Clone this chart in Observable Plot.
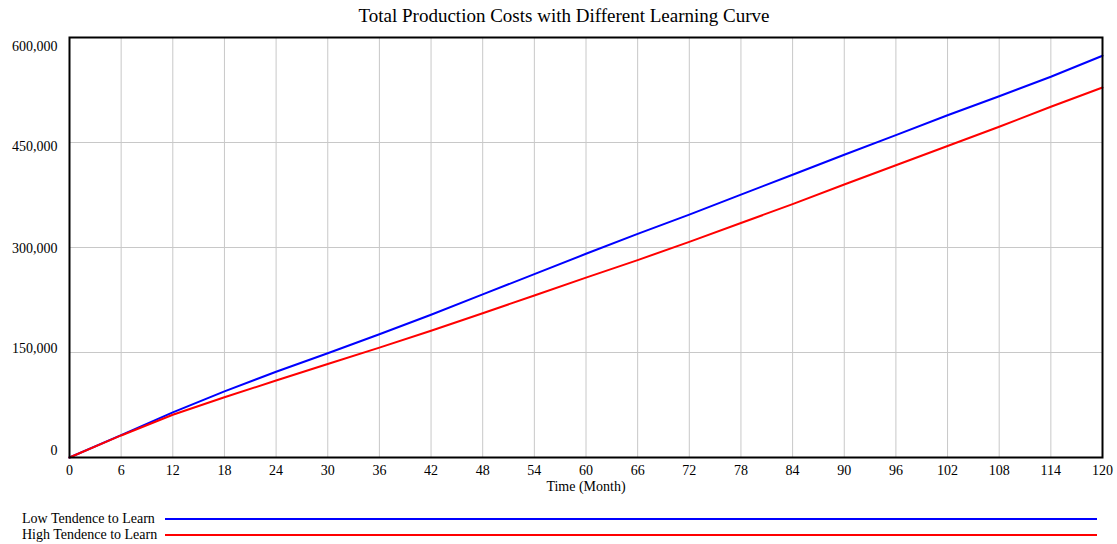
<!DOCTYPE html>
<html>
<head>
<meta charset="utf-8">
<script src="https://cdn.jsdelivr.net/npm/d3@7"></script>
<script src="https://cdn.jsdelivr.net/npm/@observablehq/plot@0.6"></script>
<style>
  html, body { margin: 0; padding: 0; background: #fff; }
  #wrap { position: relative; width: 1117px; height: 544px; font-family: "Liberation Serif", "Times New Roman", serif; color: #000; }
  #title { position: absolute; top: 5px; left: 11px; width: 1106px; text-align: center; font-size: 19px; line-height: 22px; }
  #chart { position: absolute; top: 0; left: 0; }
  .lg { position: absolute; left: 22px; height: 16px; width: 1080px; font-size: 14px; line-height: 16px; }
  .lg span.t { position: absolute; left: 0; top: 0; white-space: nowrap; }
  .lg span.l { position: absolute; left: 143px; right: 5px; top: 7px; height: 2px; }
</style>
</head>
<body>
<div id="wrap">
  <div id="chart"></div>
  <div id="title"></div>
  <div id="legend"></div>
</div>
<script>
const titleText = "Total Production Costs with Different Learning Curve";
const xLabel = "Time (Month)";
const seriesNames = ["Low Tendence to Learn", "High Tendence to Learn"];
const seriesColors = ["#0000ff", "#ff0000"];
const months = [0, 6, 12, 18, 24, 30, 36, 42, 48, 54, 60, 66, 72, 78, 84, 90, 96, 102, 108, 114, 120];
const lowCosts = [0, 32000, 64500, 94500, 122500, 149000, 176000, 204000, 233000, 262000, 291000, 319500, 347000, 375500, 404000, 432500, 460500, 489000, 516000, 544000, 574000];
const highCosts = [0, 31500, 61000, 86000, 110000, 133500, 157000, 181000, 206000, 231500, 257000, 282000, 308000, 335000, 362000, 390000, 417500, 445000, 472500, 501000, 528500];
const xTicks = [0, 6, 12, 18, 24, 30, 36, 42, 48, 54, 60, 66, 72, 78, 84, 90, 96, 102, 108, 114, 120];
const yTicks = [0, 150000, 300000, 450000, 600000];
const yLabelShift = [-7, -4, 1, 4, 9];

const rows = months.flatMap((m, i) => [
  {month: m, cost: lowCosts[i], series: seriesNames[0]},
  {month: m, cost: highCosts[i], series: seriesNames[1]}
]);

const font = "Liberation Serif";
const chart = Plot.plot({
  width: 1117,
  height: 500,
  marginTop: 37,
  marginBottom: 43,
  marginLeft: 69,
  marginRight: 15,
  style: {fontFamily: font, fontSize: "14px", color: "#000", background: "transparent"},
  x: {domain: [0, 120], axis: null},
  y: {domain: [0, 600000], axis: null},
  color: {domain: seriesNames, range: seriesColors},
  marks: [
    Plot.gridX(xTicks, {stroke: "#c8c8c8", strokeOpacity: 1, strokeWidth: 1}),
    Plot.gridY(yTicks, {stroke: "#c8c8c8", strokeOpacity: 1, strokeWidth: 1}),
    Plot.line(rows, {x: "month", y: "cost", z: "series", stroke: "series", strokeWidth: 2}),
    Plot.frame({stroke: "#000", strokeWidth: 2}),
    Plot.axisX(xTicks, {tickSize: 0, tickPadding: 8, fontSize: 14, label: null, tickFormat: d => String(d)}),
    ...yTicks.map((t, i) => Plot.text([t], {
      y: d => d, frameAnchor: "left", dx: -12, dy: yLabelShift[i], textAnchor: "end",
      text: d => d3.format(",")(d), fontSize: 14, fill: "#000"
    })),
    Plot.text([xLabel], {frameAnchor: "bottom", dy: 24, lineAnchor: "top", text: d => d, fontSize: 14, fill: "#000"})
  ]
});
document.getElementById("chart").appendChild(chart);
document.getElementById("title").textContent = titleText;

const legend = document.getElementById("legend");
seriesNames.forEach((name, i) => {
  const row = document.createElement("div");
  row.className = "lg";
  row.style.top = (511 + i * 16) + "px";
  const t = document.createElement("span");
  t.className = "t";
  t.textContent = name;
  const l = document.createElement("span");
  l.className = "l";
  l.style.background = seriesColors[i];
  row.appendChild(t);
  row.appendChild(l);
  legend.appendChild(row);
});
</script>
</body>
</html>
